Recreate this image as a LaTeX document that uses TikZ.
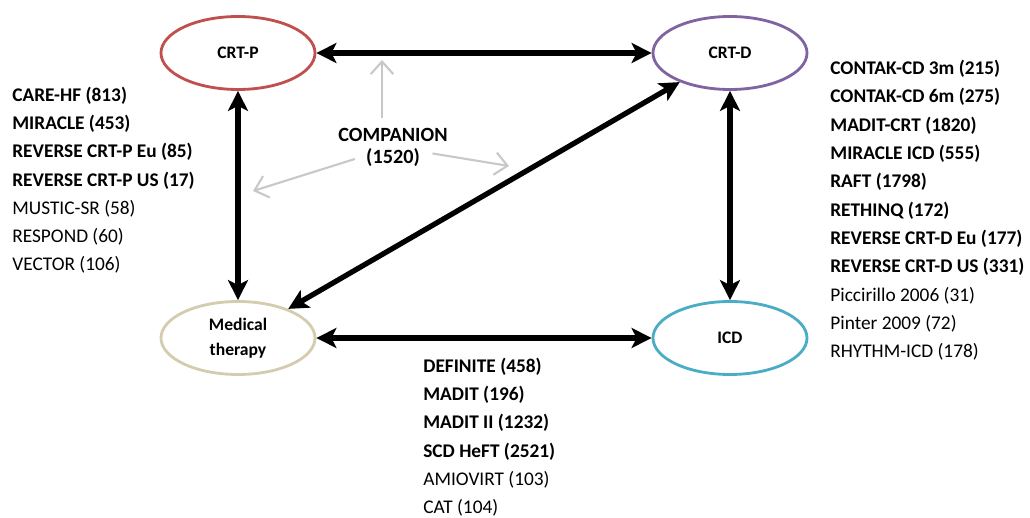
\documentclass[tikz,border=0pt]{standalone}
\usepackage{fontspec}
\setmainfont{Carlito}
\usetikzlibrary{arrows.meta,shapes.geometric}

\definecolor{crtpred}{HTML}{C0504D}
\definecolor{crtdviolet}{HTML}{8064A2}
\definecolor{icdblue}{HTML}{4BACC6}
\definecolor{medtan}{HTML}{D3CCAE}
\definecolor{hintgray}{HTML}{C8C8C8}

\tikzset{
  therapy/.style={ellipse, draw=#1, line width=1.6pt, minimum width=3.08cm,
    minimum height=1.46cm, inner sep=0pt, align=center,
    font=\fontsize{10}{14}\selectfont\bfseries},
  link/.style={line width=3pt,
    {Stealth[length=4mm,width=4mm,inset=1mm]}-{Stealth[length=4mm,width=4mm,inset=1mm]}},
  hint/.style={draw=hintgray, line width=1.2pt, -{Straight Barb[length=2.5mm,width=4.5mm]}},
  triallist/.style={anchor=north west, inner sep=0pt, align=left,
    font=\fontsize{11}{16}\selectfont}
}

\begin{document}
\begin{tikzpicture}
      \useasboundingbox (0,0) rectangle (20.60,10.36);

      \node[therapy=crtpred](P) at (4.76, 9.30){CRT-P};
      \node[therapy=crtdviolet](D) at (14.60, 9.30){CRT-D};
      \node[therapy=medtan](M) at (4.76, 3.60){Medical\\therapy};
      \node[therapy=icdblue](I) at (14.60, 3.60){ICD};

      \node[font=\fontsize{11.5}{12.5}\selectfont\bfseries, align=center](comp) at (7.86, 7.42){COMPANION\\(1520)};
      \coordinate (up) at (7.64, 9.16);
      \coordinate (left) at (5.06, 6.54);
      \coordinate (right) at (10.18, 7.04);

      \draw[link] (P) -- (D);
      \draw[link] (P) -- (M);
      \draw[link] (D) -- (I);
      \draw[link] (M) -- (I);
      \draw[link] (M) -- (D);

      \draw[hint, shorten <=2pt] (comp.north -| up) -- (up);
      \draw[hint, shorten <=0.8cm] (comp.center) -- (left);
      \draw[hint, shorten <=0.8cm] (comp.center) -- (right);

      \node[triallist](crtplist) at (0.24, 8.62){%
        \textbf{CARE-HF (813)}\\
        \textbf{MIRACLE (453)}\\
        \textbf{REVERSE CRT-P Eu (85)}\\
        \textbf{REVERSE CRT-P US (17)}\\
        MUSTIC-SR (58)\\
        RESPOND (60)\\
        VECTOR (106)};

      \node[triallist, font=\fontsize{11}{16.1}\selectfont](crtdlist) at (16.60, 9.16){%
        \textbf{CONTAK-CD 3m (215)}\\
        \textbf{CONTAK-CD 6m (275)}\\
        \textbf{MADIT-CRT (1820)}\\
        \textbf{MIRACLE ICD (555)}\\
        \textbf{RAFT (1798)}\\
        \textbf{RETHINQ (172)}\\
        \textbf{REVERSE CRT-D Eu (177)}\\
        \textbf{REVERSE CRT-D US (331)}\\
        Piccirillo 2006 (31)\\
        Pinter 2009 (72)\\
        RHYTHM-ICD (178)};

      \node[triallist](icdlist) at (8.46, 3.20){%
        \textbf{DEFINITE (458)}\\
        \textbf{MADIT (196)}\\
        \textbf{MADIT II (1232)}\\
        \textbf{SCD HeFT (2521)}\\
        AMIOVIRT (103)\\
        CAT (104)};
    \end{tikzpicture}
\end{document}
